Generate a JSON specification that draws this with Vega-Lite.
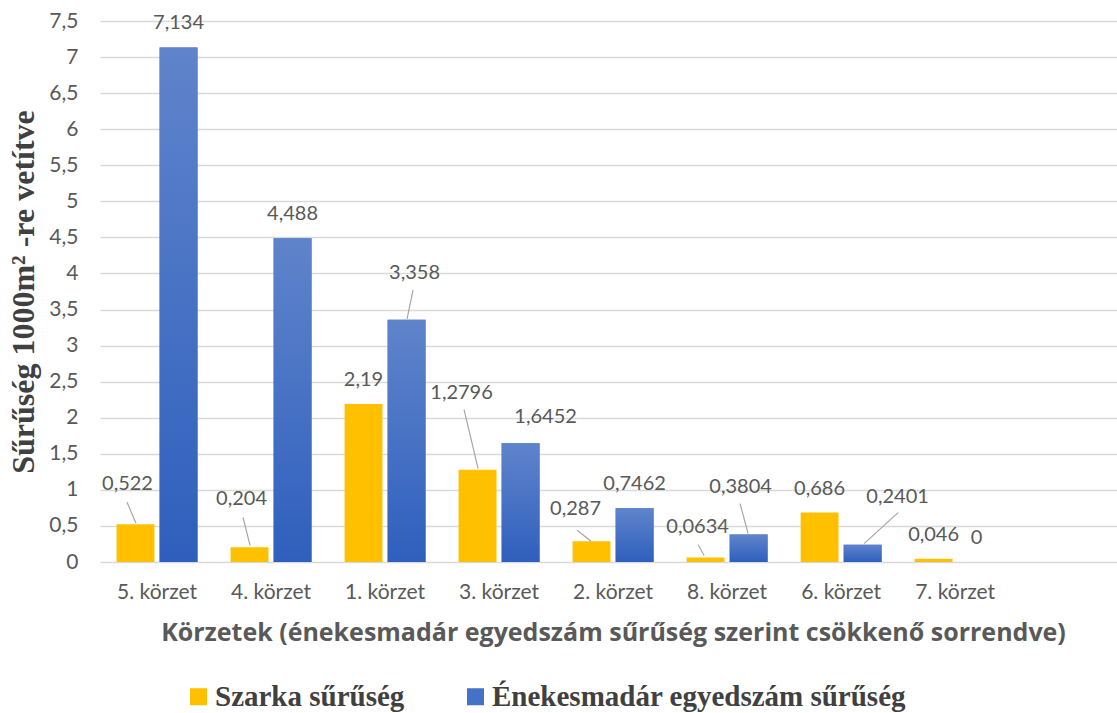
{
  "$schema": "https://vega.github.io/schema/vega-lite/v6.json",
  "autosize": "none",
  "width": 1017,
  "height": 541,
  "padding": {"left": 100, "top": 21, "right": 0, "bottom": 151},
  "background": "white",
  "data": {
    "values": [
      {"district": "5. körzet", "series": "Szarka sűrűség", "value": 0.522},
      {"district": "5. körzet", "series": "Énekesmadár egyedszám sűrűség", "value": 7.134},
      {"district": "4. körzet", "series": "Szarka sűrűség", "value": 0.204},
      {"district": "4. körzet", "series": "Énekesmadár egyedszám sűrűség", "value": 4.488},
      {"district": "1. körzet", "series": "Szarka sűrűség", "value": 2.19},
      {"district": "1. körzet", "series": "Énekesmadár egyedszám sűrűség", "value": 3.358},
      {"district": "3. körzet", "series": "Szarka sűrűség", "value": 1.2796},
      {"district": "3. körzet", "series": "Énekesmadár egyedszám sűrűség", "value": 1.6452},
      {"district": "2. körzet", "series": "Szarka sűrűség", "value": 0.287},
      {"district": "2. körzet", "series": "Énekesmadár egyedszám sűrűség", "value": 0.7462},
      {"district": "8. körzet", "series": "Szarka sűrűség", "value": 0.0634},
      {"district": "8. körzet", "series": "Énekesmadár egyedszám sűrűség", "value": 0.3804},
      {"district": "6. körzet", "series": "Szarka sűrűség", "value": 0.686},
      {"district": "6. körzet", "series": "Énekesmadár egyedszám sűrűség", "value": 0.2401},
      {"district": "7. körzet", "series": "Szarka sűrűség", "value": 0.046},
      {"district": "7. körzet", "series": "Énekesmadár egyedszám sűrűség", "value": 0}
    ]
  },
  "encoding": {
    "x": {
      "field": "district", "type": "nominal", "sort": null,
      "scale": {"paddingInner": 0.29, "paddingOuter": 0.605, "align": 0.12},
      "axis": {
        "title": "Körzetek (énekesmadár egyedszám sűrűség szerint csökkenő sorrendve)",
        "labelAngle": 0, "domain": false, "ticks": false,
        "labelFont": "Lato", "labelFontSize": 21, "labelColor": "#595959", "labelPadding": 19,
        "titleFont": "Open Sans", "titleFontSize": 25, "titleFontWeight": "bold", "titleColor": "#595959",
        "titlePadding": 18, "titleX": 513
      }
    },
    "y": {
      "field": "value", "type": "quantitative",
      "scale": {"domain": [0, 7.5], "nice": false},
      "axis": {
        "title": "Sűrűség 1000m² -re vetítve",
        "values": [0, 0.5, 1, 1.5, 2, 2.5, 3, 3.5, 4, 4.5, 5, 5.5, 6, 6.5, 7, 7.5],
        "format": ".1~f",
        "domain": false, "ticks": false,
        "grid": true, "gridColor": "#D9D9D9", "gridWidth": 1.5,
        "labelFont": "Lato", "labelFontSize": 21, "labelColor": "#595959", "labelPadding": 22,
        "titleFont": "Liberation Serif", "titleFontSize": 32, "titleFontWeight": "bold", "titleColor": "#404040",
        "titlePadding": 8
      }
    }
  },
  "layer": [
    {
      "mark": {"type": "bar"},
      "encoding": {
        "xOffset": {"field": "series", "type": "nominal", "sort": ["Szarka sűrűség", "Énekesmadár egyedszám sűrűség"], "scale": {"paddingInner": 0.12, "paddingOuter": 0}},
        "color": {
          "field": "series", "type": "nominal",
          "sort": ["Szarka sűrűség", "Énekesmadár egyedszám sűrűség"],
          "scale": {"domain": ["Szarka sűrűség", "Énekesmadár egyedszám sűrűség"], "range": ["#FFC000", "#4472C4"]},
          "legend": {
            "title": null, "orient": "none", "direction": "horizontal",
            "legendX": 84, "legendY": 661,
            "symbolType": "square", "symbolSize": 290, "symbolStrokeWidth": 0,
            "labelFont": "Liberation Serif", "labelFontSize": 29, "labelFontWeight": "bold", "labelColor": "#404040",
            "labelOffset": 2, "columnPadding": 56, "labelLimit": 0, "padding": 0
          }
        }
      }
    },
    {
      "transform": [{"filter": "datum.series !== 'Szarka sűrűség'"}],
      "mark": {"type": "bar", "color": {"gradient": "linear", "x1": 0, "y1": 0, "x2": 0, "y2": 1, "stops": [{"offset": 0, "color": "#5F84CB"}, {"offset": 1, "color": "#2F5FBD"}]}},
      "encoding": {
        "xOffset": {"field": "series", "type": "nominal", "sort": ["Szarka sűrűség", "Énekesmadár egyedszám sűrűség"]}
      }
    },
    {
      "transform": [{"filter": "!((datum.district === '5. körzet' && datum.series === 'Szarka sűrűség') || (datum.district === '4. körzet' && datum.series === 'Szarka sűrűség') || (datum.district === '1. körzet' && datum.series !== 'Szarka sűrűség') || (datum.district === '3. körzet') || (datum.district === '2. körzet' && datum.series === 'Szarka sűrűség') || (datum.district === '8. körzet') || (datum.district === '6. körzet' && datum.series !== 'Szarka sűrűség'))"}],
      "mark": {"type": "text", "font": "Lato", "fontSize": 20, "color": "#595959", "baseline": "middle", "dy": -24},
      "encoding": {
        "xOffset": {"field": "series", "type": "nominal", "sort": ["Szarka sűrűség", "Énekesmadár egyedszám sűrűség"]},
        "text": {"field": "value", "type": "quantitative", "format": ".4~f"}
      }
    },
    {
      "transform": [{"filter": "datum.district === '5. körzet' && datum.series === 'Szarka sűrűség'"}],
      "mark": {"type": "text", "font": "Lato", "fontSize": 20, "color": "#595959", "baseline": "middle", "dx": -8, "dy": -40},
      "encoding": {"xOffset": {"field": "series", "type": "nominal", "sort": ["Szarka sűrűség", "Énekesmadár egyedszám sűrűség"]}, "text": {"field": "value", "type": "quantitative", "format": ".4~f"}}
    },
    {
      "transform": [{"filter": "datum.district === '4. körzet' && datum.series === 'Szarka sűrűség'"}],
      "mark": {"type": "text", "font": "Lato", "fontSize": 20, "color": "#595959", "baseline": "middle", "dx": -8, "dy": -48},
      "encoding": {"xOffset": {"field": "series", "type": "nominal", "sort": ["Szarka sűrűség", "Énekesmadár egyedszám sűrűség"]}, "text": {"field": "value", "type": "quantitative", "format": ".4~f"}}
    },
    {
      "transform": [{"filter": "datum.district === '1. körzet' && datum.series !== 'Szarka sűrűség'"}],
      "mark": {"type": "text", "font": "Lato", "fontSize": 20, "color": "#595959", "baseline": "middle", "dx": 8, "dy": -47},
      "encoding": {"xOffset": {"field": "series", "type": "nominal", "sort": ["Szarka sűrűség", "Énekesmadár egyedszám sűrűség"]}, "text": {"field": "value", "type": "quantitative", "format": ".4~f"}}
    },
    {
      "transform": [{"filter": "datum.district === '3. körzet' && datum.series === 'Szarka sűrűség'"}],
      "mark": {"type": "text", "font": "Lato", "fontSize": 20, "color": "#595959", "baseline": "middle", "dx": -16, "dy": -77},
      "encoding": {"xOffset": {"field": "series", "type": "nominal", "sort": ["Szarka sűrűség", "Énekesmadár egyedszám sűrűség"]}, "text": {"field": "value", "type": "quantitative", "format": ".4~f"}}
    },
    {
      "transform": [{"filter": "datum.district === '3. körzet' && datum.series !== 'Szarka sűrűség'"}],
      "mark": {"type": "text", "font": "Lato", "fontSize": 20, "color": "#595959", "baseline": "middle", "dx": 25, "dy": -26},
      "encoding": {"xOffset": {"field": "series", "type": "nominal", "sort": ["Szarka sűrűség", "Énekesmadár egyedszám sűrűség"]}, "text": {"field": "value", "type": "quantitative", "format": ".4~f"}}
    },
    {
      "transform": [{"filter": "datum.district === '2. körzet' && datum.series === 'Szarka sűrűség'"}],
      "mark": {"type": "text", "font": "Lato", "fontSize": 20, "color": "#595959", "baseline": "middle", "dx": -16, "dy": -32},
      "encoding": {"xOffset": {"field": "series", "type": "nominal", "sort": ["Szarka sűrűség", "Énekesmadár egyedszám sűrűség"]}, "text": {"field": "value", "type": "quantitative", "format": ".4~f"}}
    },
    {
      "transform": [{"filter": "datum.district === '8. körzet' && datum.series === 'Szarka sűrűség'"}],
      "mark": {"type": "text", "font": "Lato", "fontSize": 20, "color": "#595959", "baseline": "middle", "dx": -8, "dy": -30},
      "encoding": {"xOffset": {"field": "series", "type": "nominal", "sort": ["Szarka sűrűség", "Énekesmadár egyedszám sűrűség"]}, "text": {"field": "value", "type": "quantitative", "format": ".4~f"}}
    },
    {
      "transform": [{"filter": "datum.district === '8. körzet' && datum.series !== 'Szarka sűrűség'"}],
      "mark": {"type": "text", "font": "Lato", "fontSize": 20, "color": "#595959", "baseline": "middle", "dx": -8, "dy": -48},
      "encoding": {"xOffset": {"field": "series", "type": "nominal", "sort": ["Szarka sűrűség", "Énekesmadár egyedszám sűrűség"]}, "text": {"field": "value", "type": "quantitative", "format": ".4~f"}}
    },
    {
      "transform": [{"filter": "datum.district === '6. körzet' && datum.series !== 'Szarka sűrűség'"}],
      "mark": {"type": "text", "font": "Lato", "fontSize": 20, "color": "#595959", "baseline": "middle", "dx": 35, "dy": -48},
      "encoding": {"xOffset": {"field": "series", "type": "nominal", "sort": ["Szarka sűrűség", "Énekesmadár egyedszám sűrűség"]}, "text": {"field": "value", "type": "quantitative", "format": ".4~f"}}
    },
    {
      "transform": [{"filter": "datum.district === '5. körzet' && datum.series === 'Szarka sűrűség'"}],
      "mark": {"type": "rule", "color": "#A6A6A6", "strokeWidth": 1.2, "xOffset": -30, "x2Offset": -21, "yOffset": -22, "y2Offset": -1},
      "encoding": {"x2": {"field": "district"}, "y2": {"field": "value"}}
    },
    {
      "transform": [{"filter": "datum.district === '4. körzet' && datum.series === 'Szarka sűrűség'"}],
      "mark": {"type": "rule", "color": "#A6A6A6", "strokeWidth": 1.2, "xOffset": -28, "x2Offset": -21, "yOffset": -30, "y2Offset": -2},
      "encoding": {"x2": {"field": "district"}, "y2": {"field": "value"}}
    },
    {
      "transform": [{"filter": "datum.district === '1. körzet' && datum.series !== 'Szarka sűrűség'"}],
      "mark": {"type": "rule", "color": "#A6A6A6", "strokeWidth": 1.2, "xOffset": 28, "x2Offset": 22, "yOffset": -30, "y2Offset": -1},
      "encoding": {"x2": {"field": "district"}, "y2": {"field": "value"}}
    },
    {
      "transform": [{"filter": "datum.district === '3. körzet' && datum.series === 'Szarka sűrűség'"}],
      "mark": {"type": "rule", "color": "#A6A6A6", "strokeWidth": 1.2, "xOffset": -35, "x2Offset": -21, "yOffset": -60, "y2Offset": -1},
      "encoding": {"x2": {"field": "district"}, "y2": {"field": "value"}}
    },
    {
      "transform": [{"filter": "datum.district === '2. körzet' && datum.series === 'Szarka sűrűség'"}],
      "mark": {"type": "rule", "color": "#A6A6A6", "strokeWidth": 1.2, "xOffset": -36, "x2Offset": -22, "yOffset": -11, "y2Offset": 0},
      "encoding": {"x2": {"field": "district"}, "y2": {"field": "value"}}
    },
    {
      "transform": [{"filter": "datum.district === '8. körzet' && datum.series === 'Szarka sűrűség'"}],
      "mark": {"type": "rule", "color": "#A6A6A6", "strokeWidth": 1.2, "xOffset": -29, "x2Offset": -23, "yOffset": -13, "y2Offset": -2},
      "encoding": {"x2": {"field": "district"}, "y2": {"field": "value"}}
    },
    {
      "transform": [{"filter": "datum.district === '8. körzet' && datum.series !== 'Szarka sűrűség'"}],
      "mark": {"type": "rule", "color": "#A6A6A6", "strokeWidth": 1.2, "xOffset": 13, "x2Offset": 21, "yOffset": -31, "y2Offset": -1},
      "encoding": {"x2": {"field": "district"}, "y2": {"field": "value"}}
    },
    {
      "transform": [{"filter": "datum.district === '6. körzet' && datum.series !== 'Szarka sűrűség'"}],
      "mark": {"type": "rule", "color": "#A6A6A6", "strokeWidth": 1.2, "xOffset": 57, "x2Offset": 23, "yOffset": -32, "y2Offset": -1},
      "encoding": {"x2": {"field": "district"}, "y2": {"field": "value"}}
    }
  ],
  "config": {
    "locale": {"number": {"decimal": ",", "thousands": " ", "grouping": [3], "currency": ["", ""]}},
    "view": {"stroke": null}
  }
}
